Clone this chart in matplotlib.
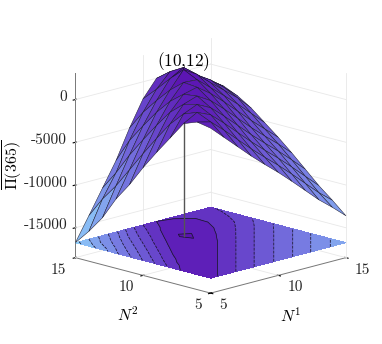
import numpy as np
import matplotlib
matplotlib.use('Agg')
import matplotlib.pyplot as plt
from matplotlib.colors import LinearSegmentedColormap
from mpl_toolkits.mplot3d import proj3d

plt.rcParams['font.family'] = ['cmr10', 'DejaVu Serif']
plt.rcParams['mathtext.fontset'] = 'cm'
plt.rcParams['axes.unicode_minus'] = False
plt.rcParams['axes.formatter.use_mathtext'] = True

n1 = [5, 6, 7, 8, 9, 10, 11, 12, 13, 14, 15]
n2 = [5, 6, 7, 8, 9, 10, 11, 12, 13, 14, 15]
# one row per N2, one column per N1
profit = [
    [800, -700, -2200, -3700, -5100, -6450, -7900, -9400, -10900, -12200, -13600],
    [1100, 700, -700, -2200, -3700, -5100, -6450, -7900, -9400, -10900, -12200],
    [500, 1400, 700, -700, -2200, -3700, -5100, -6450, -7900, -9400, -10900],
    [-1600, 800, 1500, 700, -700, -2200, -3700, -5100, -6450, -7900, -9400],
    [-3700, -800, 1100, 1650, 700, -700, -2200, -3700, -5100, -6450, -7900],
    [-5900, -2900, -250, 1450, 1850, 700, -700, -2200, -3700, -5100, -6500],
    [-8300, -5100, -2200, 200, 2000, 1900, 550, -800, -2200, -3700, -5200],
    [-10400, -7400, -4300, -1500, 700, 2670, 1700, 300, -1000, -2300, -3900],
    [-13000, -9700, -6500, -3500, -950, 1200, 2100, 800, -200, -1500, -2900],
    [-15000, -11650, -9000, -5630, -2750, -450, 1200, 600, -100, -1100, -2200],
    [-16750, -14000, -11200, -8400, -5000, -2000, 0, -200, -700, -1300, -1900],
]
peak_n1 = 10
peak_n2 = 12
peak_profit = 2670
z_ticks = [-15000, -10000, -5000, 0]
n_ticks = [5, 10, 15]
z_low = -18500
z_high = 3100
floor_z = -16750
contour_levels = [-16000, -14000, -12000, -10000, -8000, -6000, -4000, -2000, 0, 2100]

cmap = LinearSegmentedColormap.from_list('purples', ['#8fd0fa', '#7a86e6', '#6a4fd0', '#5a0fb0'])

X, Y = np.meshgrid(n1, n2)
Z = np.array(profit, dtype=float)

size = 344
fig = plt.figure(figsize=(3.82, 3.44), dpi=100)
ax = fig.add_axes([(206 - size / 2) / 382, (174 - size / 2) / 344, size / 382, size / 344],
                  projection='3d', computed_zorder=False)
ax.set_proj_type('ortho')
ax.view_init(elev=15.2, azim=-135)
ax.set_box_aspect((1, 1, 1), zoom=0.935)
ax.set_xlim(5, 15, view_margin=0)
ax.set_ylim(5, 15, view_margin=0)
ax.set_zlim(z_low, z_high, view_margin=0)
ax.patch.set_alpha(0)

# panes and built in grid off, the walls are drawn below
ax.grid(False)
for axis in [ax.xaxis, ax.yaxis, ax.zaxis]:
    axis.set_pane_color((1, 1, 1, 0))
    axis.pane.set_edgecolor((1, 1, 1, 0))
    axis.line.set_color('#777777')
    axis.line.set_linewidth(0.7)
    axis.offsetText.set_visible(False)

grid_color = '#e8e8e8'
for z in z_ticks:
    ax.plot([5, 15], [15, 15], [z, z], color=grid_color, lw=0.6, zorder=1)
    ax.plot([15, 15], [5, 15], [z, z], color=grid_color, lw=0.6, zorder=1)
ax.plot([10, 10], [15, 15], [z_low, z_high], color=grid_color, lw=0.6, zorder=1)
ax.plot([15, 15], [15, 15], [z_low, z_high], color=grid_color, lw=0.6, zorder=1)
ax.plot([15, 15], [5, 5], [z_low, z_high], color=grid_color, lw=0.6, zorder=1)
ax.plot([10, 10], [5, 15], [z_low, z_low], color=grid_color, lw=0.6, zorder=1)
ax.plot([5, 15], [10, 10], [z_low, z_low], color=grid_color, lw=0.6, zorder=1)
ax.plot([5, 15], [15, 15], [z_low, z_low], color=grid_color, lw=0.6, zorder=1)
ax.plot([15, 15], [5, 15], [z_low, z_low], color=grid_color, lw=0.6, zorder=1)

ax.contourf(X, Y, Z, levels=[-16750] + contour_levels + [2670], zdir='z', offset=floor_z, cmap=cmap, zorder=2)
ax.contour(X, Y, Z, levels=contour_levels, zdir='z', offset=floor_z, colors='#1a1a2a', linewidths=0.55, zorder=3)

ax.plot([peak_n1, peak_n1], [peak_n2, peak_n2], [floor_z, peak_profit], color='#555555', lw=1.0, zorder=4)

norm = plt.Normalize(-16750, 2670)
ax.plot_surface(X, Y, Z, facecolors=cmap(norm(Z)), rstride=1, cstride=1, shade=False,
                edgecolor='#1a1a2a', linewidth=0.35, antialiased=True, zorder=5)

ax.set_xticks(n_ticks)
ax.set_yticks(n_ticks)
ax.set_zticks(z_ticks)
ax.set_xticklabels([])
ax.set_yticklabels([])
ax.set_zticklabels([])


def label_at(a, b, c, s, **kw):
    # plain 2d text at the projected spot of a 3d point
    px, py, _ = proj3d.proj_transform(a, b, c, ax.get_proj())
    ax.text2D(px, py, s, transform=ax.transData, zorder=6, **kw)


# tick labels as text so they can sit like the matlab ones
text_color = '#262626'
for v in n_ticks:
    label_at(v, 4.34, z_low - 1150, str(v), fontsize=11, color=text_color, ha='left', va='center')
    label_at(4.34, v, z_low - 1150, str(v), fontsize=11, color=text_color, ha='right', va='center')
for v in z_ticks:
    label_at(5, 15.6, v, str(v), fontsize=11, color=text_color, ha='right', va='center')

label_at(peak_n1, peak_n2, peak_profit - 350, '$(10{,}12)$', fontsize=12.4, ha='center', va='bottom')

fig.text(291 / 382, 1 - 315 / 344, '$N^1$', fontsize=11.5, ha='center', va='center')
fig.text(128 / 382, 1 - 314 / 344, '$N^2$', fontsize=11.5, ha='center', va='center')
fig.text(13 / 382, 1 - 165 / 344, r'$\overline{\Pi(365)}$', fontsize=11.5, rotation=90, ha='center', va='center')

fig.savefig('out.png', dpi=100)
